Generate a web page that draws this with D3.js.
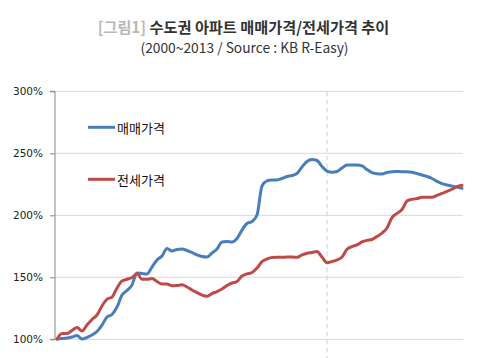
<!DOCTYPE html>
<html><head><meta charset="utf-8">
<script src="https://cdn.jsdelivr.net/npm/d3@7"></script>
<style>
html,body{margin:0;padding:0;background:#fff;}
svg{display:block;}
</style></head>
<body>
<svg id="chart" width="480" height="358"></svg>
<script>
const titleGray = "[그림1]";
const titleMain = "수도권 아파트 매매가격/전세가격 추이";
const subtitle = "(2000~2013 / Source : KB R-Easy)";
const seriesNames = ["매매가격", "전세가격"];
const yTicks = [100, 150, 200, 250, 300];
const markerIndex = 54;

const saleValues = [100.2,100.6,101.0,101.9,103.1,100.2,101.5,103.5,106.3,111.5,118.0,120.0,126.0,135.7,139.4,143.8,153.5,153.1,152.7,158.3,164.0,167.2,173.2,171.2,172.4,172.8,171.6,170.0,168.0,166.8,166.4,169.6,172.8,178.5,178.9,178.5,181.3,188.1,193.4,195.0,200.2,223.6,227.7,228.5,228.5,229.7,231.3,232.1,233.7,239.0,243.4,245.0,244.2,239.4,235.7,234.7,235.3,238.1,240.6,240.6,240.6,239.8,236.9,234.5,233.5,233.3,234.5,235.2,235.3,235.2,235.2,234.7,233.7,232.5,231.3,229.7,227.3,225.6,224.4,223.6,222.8,221.8];
const jeonseValues = [100.2,104.7,104.7,107.1,109.5,106.7,111.5,116.0,119.6,126.9,132.3,134.1,141.4,147.0,148.4,149.8,153.1,148.4,148.4,149.0,146.6,144.6,144.6,143.1,143.4,143.9,142.2,139.8,137.7,135.7,134.7,136.9,138.5,140.6,143.4,145.4,146.6,151.0,152.7,153.9,157.5,162.7,164.8,166.0,166.1,166.1,166.4,166.4,166.1,168.0,169.4,170.0,170.8,166.4,161.8,162.7,164.0,166.4,172.6,174.8,176.1,178.5,179.8,180.5,182.9,185.7,189.8,198.2,201.5,204.7,211.5,212.9,213.5,214.5,214.5,214.5,216.0,217.6,219.2,221.0,223.1,224.2];
const colors = ["#4a7ebb", "#be4b48"];

const svg = d3.select("#chart");
const plotLeft = 55, plotRight = 463, plotTop = 91.3, plotBottom = 339.3;

const x = d3.scaleLinear().domain([0, saleValues.length - 1]).range([57, 462]);
const y = d3.scaleLinear().domain([100, 300]).range([plotBottom, plotTop]);

// gridlines
svg.append("g").selectAll("line").data(yTicks).join("line")
  .attr("x1", plotLeft).attr("x2", plotRight)
  .attr("y1", d => y(d)).attr("y2", d => y(d))
  .attr("stroke", "#d9d9d9").attr("stroke-width", 1);

// dashed marker
svg.append("line")
  .attr("x1", x(markerIndex)).attr("x2", x(markerIndex))
  .attr("y1", plotTop).attr("y2", 358)
  .attr("stroke", "#d0d0d0").attr("stroke-width", 1)
  .attr("stroke-dasharray", "5,3");

// y axis
const yAxis = d3.axisLeft(y).tickValues(yTicks).tickSize(5).tickPadding(7)
  .tickFormat(d => d + "%");
const gy = svg.append("g").attr("transform", `translate(${plotLeft},0)`).call(yAxis);
gy.select(".domain").attr("stroke", "#888").attr("d", `M-5,${plotTop}H0V${plotBottom}H-5`);
gy.selectAll(".tick line").attr("stroke", "#888");
gy.selectAll(".tick text").attr("fill", "#222")
  .style("font-family", "DejaVu Sans, Verdana, sans-serif").style("font-size", "10.5px");

// lines
const line = d3.line().x((d, i) => x(i)).y(d => y(d)).curve(d3.curveMonotoneX);
[saleValues, jeonseValues].forEach((vals, k) => {
  svg.append("path").datum(vals)
    .attr("fill", "none").attr("stroke", colors[k]).attr("stroke-width", 3)
    .attr("stroke-linejoin", "round").attr("stroke-linecap", "round")
    .attr("d", line);
});

// legend
const legendY = [127.3, 179.3];
seriesNames.forEach((name, k) => {
  svg.append("line").attr("x1", 88).attr("x2", 115)
    .attr("y1", legendY[k]).attr("y2", legendY[k])
    .attr("stroke", colors[k]).attr("stroke-width", 3);
  svg.append("text").attr("x", 117).attr("y", legendY[k])
    .attr("dominant-baseline", "central")
    .style("font-family", "Noto Sans CJK KR, sans-serif").style("font-size", "13px")
    .attr("fill", "#111").text(name);
});

// title
const t = svg.append("text").attr("x", 243.5).attr("y", 32.5).attr("text-anchor", "middle")
  .style("font-family", "Noto Sans CJK KR, sans-serif").style("font-size", "15.2px").style("font-weight", "700");
t.append("tspan").attr("fill", "#b8b8b8").text(titleGray + " ");
t.append("tspan").attr("fill", "#333").text(titleMain);

svg.append("text").attr("x", 244.5).attr("y", 53).attr("text-anchor", "middle")
  .style("font-family", "Noto Sans CJK KR, sans-serif").style("font-size", "13.8px")
  .attr("fill", "#333").text(subtitle);
</script>
</body></html>
